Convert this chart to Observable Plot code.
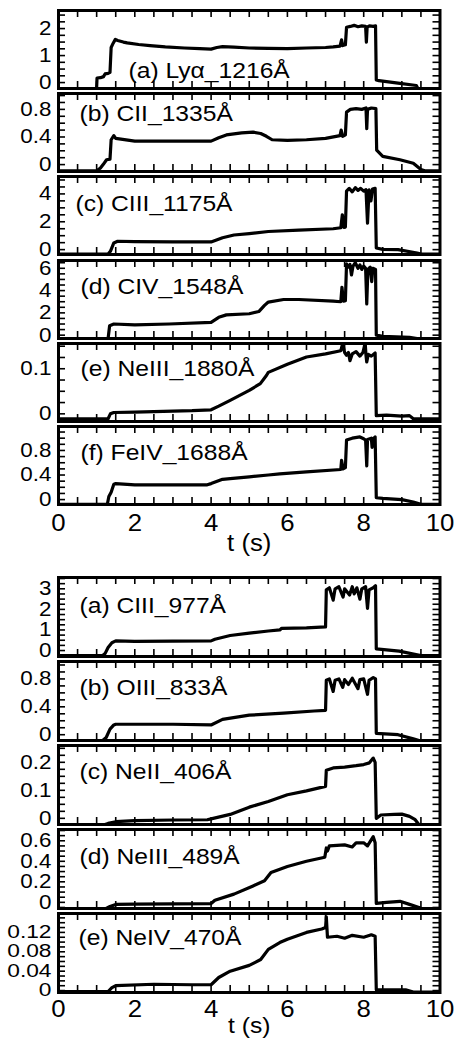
<!DOCTYPE html>
<html>
<head>
<meta charset="utf-8">
<script src="https://cdn.jsdelivr.net/npm/d3@7"></script>
<script src="https://cdn.jsdelivr.net/npm/@observablehq/plot@0.6"></script>
<style>
  body { margin: 0; background: #fff; }
  #chart { position: relative; width: 464px; height: 1038px; overflow: hidden; }
  #chart svg { position: absolute; left: 0; }
</style>
</head>
<body>
<div id="chart"></div>
<script>
// ---------- data (t in s, intensity) ----------
const xTickLabels = [0, 2, 4, 6, 8, 10];
const xMinorStep = 0.5;

const topNames = ["(a) Lyα_1216Å", "(b) CII_1335Å", "(c) CIII_1175Å", "(d) CIV_1548Å", "(e) NeIII_1880Å", "(f) FeIV_1688Å"];
const botNames = ["(a) CIII_977Å", "(b) OIII_833Å", "(c) NeII_406Å", "(d) NeIII_489Å", "(e) NeIV_470Å"];

const topYLabels = [[0, 1, 2], [0, 0.4, 0.8], [0, 2, 4], [0, 2, 4, 6], [0, 0.1], [0, 0.4, 0.8]];
const botYLabels = [[0, 1, 2, 3], [0, 0.4, 0.8], [0, 0.1, 0.2], [0, 0.2, 0.4, 0.6], [0, 0.04, 0.08, 0.12]];
const topYDomains = [[-0.22, 2.67], [-0.1, 1.03], [-0.35, 5.25], [-0.3, 6.7], [-0.017, 0.156], [-0.08, 1.19]];
const botYDomains = [[-0.29, 3.55], [-0.083, 1.05], [-0.022, 0.26], [-0.06, 0.71], [-0.004, 0.159]];
const topYMinor = [0.25, 0.1, 0.5, 0.5, 0.025, 0.1];
const botYMinor = [0.25, 0.1, 0.025, 0.05, 0.01];
const topYFont = [20, 20, 20, 20, 20, 20];
const botYFont = [20, 20, 20, 20, 17.5];

const topLya = [[0,-0.5],[0.99,-0.5],[1.01,0.17],[1.1,0.18],[1.18,0.22],[1.22,0.32],[1.3,0.34],[1.35,0.38],[1.38,1.3],[1.43,1.45],[1.49,1.6],[1.55,1.56],[1.7,1.5],[1.8,1.47],[2.1,1.41],[2.4,1.37],[2.8,1.32],[3.3,1.28],[3.7,1.26],[4.0,1.24],[4.15,1.3],[4.3,1.33],[4.6,1.31],[5.0,1.28],[5.5,1.27],[6.0,1.26],[6.5,1.28],[7.0,1.3],[7.2,1.32],[7.38,1.35],[7.42,1.58],[7.45,1.37],[7.52,1.4],[7.55,2.05],[7.65,2.08],[7.75,2.12],[7.85,2.07],[7.95,2.1],[8.05,2.08],[8.07,1.5],[8.09,2.05],[8.15,2.1],[8.25,2.08],[8.31,2.1],[8.33,0.1],[8.4,0.07],[8.9,-0.02],[9.38,-0.11],[9.45,-0.3],[9.5,-0.5],[10,-0.5]];
const topCII = [[0,-0.09],[1.0,-0.09],[1.1,-0.05],[1.17,0.0],[1.26,0.07],[1.35,0.08],[1.38,0.36],[1.45,0.42],[1.5,0.38],[2.0,0.34],[2.5,0.34],[3.0,0.34],[3.5,0.34],[4.0,0.34],[4.2,0.39],[4.4,0.43],[4.8,0.46],[5.1,0.47],[5.3,0.45],[5.45,0.41],[5.6,0.36],[6.0,0.35],[6.5,0.36],[7.0,0.38],[7.38,0.42],[7.41,0.5],[7.45,0.41],[7.52,0.43],[7.55,0.76],[7.65,0.8],[7.8,0.81],[7.95,0.8],[8.06,0.82],[8.08,0.52],[8.1,0.8],[8.2,0.82],[8.32,0.81],[8.34,0.21],[8.5,0.12],[8.95,0.07],[9.3,0.02],[9.5,-0.07],[9.6,-0.09],[10,-0.09]];
const topCIII = [[0,-0.32],[1.3,-0.32],[1.36,-0.12],[1.45,0.48],[1.55,0.6],[2.0,0.57],[3.0,0.56],[4.0,0.55],[4.3,0.85],[4.6,1.05],[5.0,1.15],[5.5,1.3],[6.3,1.4],[7.2,1.5],[7.4,1.57],[7.44,2.5],[7.48,1.6],[7.52,1.62],[7.55,4.2],[7.62,4.4],[7.7,4.15],[7.78,4.45],[7.85,4.25],[7.92,4.4],[8.0,4.2],[8.06,4.3],[8.1,1.9],[8.14,4.3],[8.19,3.5],[8.23,4.35],[8.3,4.4],[8.33,0.12],[8.5,0.02],[8.9,0.0],[9.4,-0.24],[9.5,-0.32],[10,-0.32]];
const topCIV = [[0,-0.3],[1.3,-0.3],[1.34,0.85],[1.45,1.0],[2.0,0.92],[2.9,1.0],[4.0,1.15],[4.2,1.6],[4.4,1.82],[5.0,1.92],[5.25,2.12],[5.4,2.67],[5.5,2.97],[5.9,3.2],[6.3,3.2],[7.2,3.05],[7.4,3.0],[7.43,4.3],[7.47,3.05],[7.52,3.1],[7.55,6.4],[7.6,6.1],[7.64,6.35],[7.68,5.4],[7.72,6.2],[7.78,6.5],[7.85,6.0],[7.9,6.3],[7.95,5.9],[8.0,6.2],[8.05,6.0],[8.08,2.8],[8.11,5.9],[8.17,6.1],[8.21,4.8],[8.24,6.0],[8.31,5.9],[8.33,0.0],[8.5,-0.1],[9.2,-0.2],[9.4,-0.3],[10,-0.3]];
const topNeIII = [[0,-0.011],[1.3,-0.011],[1.36,0.0],[1.45,0.003],[2.0,0.004],[3.0,0.006],[3.5,0.007],[4.0,0.009],[4.2,0.017],[4.5,0.03],[5.0,0.052],[5.29,0.067],[5.45,0.085],[5.5,0.092],[6.0,0.11],[6.5,0.126],[7.0,0.133],[7.4,0.14],[7.45,0.156],[7.5,0.136],[7.55,0.13],[7.6,0.136],[7.64,0.118],[7.7,0.133],[7.8,0.138],[7.9,0.128],[7.98,0.136],[8.04,0.156],[8.06,0.13],[8.08,0.115],[8.12,0.132],[8.2,0.128],[8.3,0.135],[8.33,-0.004],[8.6,-0.003],[9.0,-0.005],[9.2,-0.004],[9.3,-0.011],[10,-0.011]];
const topFeIV = [[0,-0.076],[1.28,-0.076],[1.32,0.05],[1.38,0.12],[1.45,0.25],[1.5,0.26],[2.0,0.24],[3.0,0.24],[3.9,0.24],[4.0,0.26],[4.3,0.33],[4.5,0.34],[5.0,0.37],[5.5,0.4],[5.8,0.42],[6.5,0.45],[7.4,0.49],[7.42,0.64],[7.46,0.5],[7.52,0.52],[7.55,0.97],[7.7,1.0],[7.9,1.02],[8.0,0.99],[8.05,0.97],[8.08,0.55],[8.1,0.98],[8.2,1.0],[8.22,0.85],[8.25,0.99],[8.3,1.02],[8.33,0.03],[8.5,0.02],[9.0,0.0],[9.3,-0.04],[9.5,-0.076],[10,-0.076]];

const botCIII = [[0,-0.25],[1.15,-0.25],[1.22,-0.15],[1.3,0.15],[1.4,0.38],[1.5,0.47],[2.0,0.45],[3.0,0.46],[4.0,0.47],[4.1,0.55],[4.5,0.73],[5.0,0.85],[5.5,0.95],[5.8,1.0],[5.85,1.08],[6.5,1.1],[7.0,1.15],[7.02,2.95],[7.1,3.05],[7.2,2.45],[7.25,3.0],[7.35,3.1],[7.46,2.6],[7.5,3.0],[7.63,2.7],[7.7,3.1],[7.75,2.75],[7.82,3.05],[7.9,2.5],[7.95,3.0],[8.05,3.1],[8.1,2.05],[8.14,2.95],[8.25,3.05],[8.31,3.15],[8.33,0.08],[8.93,-0.03],[9.37,-0.2],[9.5,-0.25],[10,-0.25]];
const botOIII = [[0,-0.085],[1.15,-0.085],[1.25,-0.04],[1.35,0.08],[1.45,0.14],[1.5,0.15],[2.0,0.15],[3.0,0.15],[4.0,0.14],[4.3,0.22],[5.0,0.28],[5.9,0.31],[6.7,0.34],[7.0,0.35],[7.02,0.78],[7.1,0.8],[7.2,0.62],[7.25,0.78],[7.35,0.8],[7.45,0.68],[7.5,0.79],[7.6,0.72],[7.7,0.81],[7.85,0.66],[7.9,0.79],[8.0,0.8],[8.1,0.58],[8.14,0.78],[8.25,0.82],[8.31,0.8],[8.33,0.02],[8.9,0.0],[9.3,-0.06],[9.45,-0.085],[10,-0.085]];
const botNeII = [[0,-0.023],[1.2,-0.023],[1.3,-0.018],[1.5,-0.012],[2.0,-0.008],[3.0,-0.006],[3.9,-0.005],[4.0,-0.002],[4.5,0.014],[5.0,0.04],[5.5,0.06],[6.0,0.084],[6.5,0.098],[7.0,0.114],[7.02,0.172],[7.2,0.18],[7.5,0.183],[7.8,0.188],[8.0,0.192],[8.15,0.198],[8.25,0.215],[8.3,0.2],[8.33,0.0],[8.45,0.012],[8.8,0.014],[9.0,0.015],[9.2,0.007],[9.35,-0.005],[9.45,-0.023],[10,-0.023]];
const botNeIII = [[0,-0.06],[1.25,-0.06],[1.35,-0.04],[1.5,-0.02],[2.0,-0.017],[3.0,-0.015],[4.0,-0.012],[4.1,0.02],[4.6,0.08],[5.1,0.16],[5.4,0.21],[5.57,0.29],[6.0,0.35],[6.5,0.4],[6.98,0.44],[7.02,0.53],[7.05,0.5],[7.1,0.55],[7.5,0.56],[7.7,0.54],[7.8,0.58],[8.0,0.58],[8.1,0.55],[8.25,0.64],[8.3,0.58],[8.33,-0.01],[8.6,0.0],[8.95,0.01],[9.2,-0.02],[9.45,-0.05],[9.5,-0.06],[10,-0.06]];
const botNeIV = [[0,-0.002],[1.3,-0.002],[1.4,0.006],[1.5,0.01],[2.5,0.013],[3.5,0.012],[4.0,0.012],[4.2,0.027],[4.5,0.04],[5.0,0.052],[5.3,0.064],[5.5,0.085],[5.8,0.099],[6.0,0.106],[6.5,0.12],[6.9,0.127],[7.0,0.13],[7.02,0.152],[7.05,0.11],[7.3,0.112],[7.5,0.108],[7.7,0.114],[8.0,0.11],[8.2,0.115],[8.3,0.112],[8.33,0.0015],[9.1,0.0015],[9.3,-0.003],[10,-0.003]];

const topSeries = [topLya, topCII, topCIII, topCIV, topNeIII, topFeIV];
const botSeries = [botCIII, botOIII, botNeII, botNeIII, botNeIV];

// ---------- layout ----------
const W = 464, ML = 58, MR = 24.5;
const topLabelPos = [[70, 60], [21, 20], [17, 27], [22, 26], [22, 25], [22, 26]];
const botLabelPos = [[21, 28], [21, 26], [21, 26], [21, 27], [20, 24]];
const groups = [
  {first: 10, step: 83.2, h: 78, names: topNames, series: topSeries, labels: topYLabels, domains: topYDomains, minors: topYMinor, yfont: topYFont, pos: topLabelPos, xdy: 19, ldy: 39, lfont: 23},
  {first: 577, step: 84, h: 79, names: botNames, series: botSeries, labels: botYLabels, domains: botYDomains, minors: botYMinor, yfont: botYFont, pos: botLabelPos, xdy: 17, ldy: 33, lfont: 22}
];

function stepTicks(domain, step) {
  const n0 = Math.ceil(domain[0] / step - 1e-9), n1 = Math.floor(domain[1] / step + 1e-9);
  return d3.range(n0, n1 + 1).map(k => +(k * step).toFixed(6));
}
const xMinor = stepTicks([0, 10], xMinorStep).filter(v => v > 0 && v < 10);

const chart = document.getElementById("chart");
const font = "'Liberation Sans', Arial, Helvetica, sans-serif";

for (const g of groups) {
  const n = g.series.length;
  for (let i = 0; i < n; i++) {
    const last = i === n - 1;
    const mt = 14, mb = last ? 60 : 14;
    const H = g.h;
    const pw = W - ML - MR;
    const yMinor = stepTicks(g.domains[i], g.minors[i]);
    const fs = g.yfont[i];
    const marks = [
      Plot.tickY(yMinor, {y: d => d, insetRight: pw - 7, stroke: "black", strokeWidth: 1.6}),
      Plot.tickY(yMinor, {y: d => d, insetLeft: pw - 7, stroke: "black", strokeWidth: 1.6}),
      Plot.tickX(xMinor, {x: d => d, insetBottom: H - 7, stroke: "black", strokeWidth: 1.6}),
      Plot.tickX(xMinor, {x: d => d, insetTop: H - 7, stroke: "black", strokeWidth: 1.6}),
      Plot.line(g.series[i], {x: d => d[0], y: d => d[1], stroke: "black", strokeWidth: 3.2, clip: true, strokeLinejoin: "round"}),
      Plot.frame({stroke: "black", strokeWidth: 3}),
      Plot.text(g.labels[i], {y: d => d, text: d => String(d), frameAnchor: "left", textAnchor: "end", dx: -7, fontSize: fs, fill: "black"}),
      Plot.text([g.names[i]], {text: d => d, frameAnchor: "top-left", textAnchor: "start", lineAnchor: "middle", dx: g.pos[i][0], dy: g.pos[i][1], fontSize: 22, fill: "black"})
    ];
    if (last) {
      marks.push(Plot.text(xTickLabels, {x: d => d, text: d => String(d), frameAnchor: "bottom", lineAnchor: "middle", dy: g.xdy, fontSize: 23, fill: "black"}));
      marks.push(Plot.text(["t (s)"], {text: d => d, frameAnchor: "bottom", lineAnchor: "middle", dy: g.ldy, fontSize: g.lfont, fill: "black"}));
    }
    const svg = Plot.plot({
      width: W, height: H + mt + mb,
      marginLeft: ML, marginRight: MR, marginTop: mt, marginBottom: mb,
      style: {background: "transparent", overflow: "visible", fontFamily: font, color: "black"},
      x: {domain: [0, 10], axis: null},
      y: {domain: g.domains[i], axis: null},
      marks
    });
    svg.style.position = "absolute";
    svg.style.left = "0px";
    svg.style.top = (g.first + i * g.step - mt) + "px";
    svg.dataset.stretch = fs < 20 ? "1.3" : "1.12";
    chart.appendChild(svg);
  }
}

// slightly widen glyphs to match the reference's horizontally stretched lettering
for (const svg of chart.querySelectorAll("svg")) {
  for (const t of svg.querySelectorAll("text")) {
    const L = t.getComputedTextLength();
    if (L > 0) {
      const isYLabel = t.getAttribute("text-anchor") === "end" || (t.parentNode && t.parentNode.getAttribute && t.parentNode.getAttribute("text-anchor") === "end");
      const k = isYLabel ? +svg.dataset.stretch : 1.12;
      t.setAttribute("textLength", (L * k).toFixed(2));
      t.setAttribute("lengthAdjust", "spacingAndGlyphs");
    }
  }
}
</script>
</body>
</html>
